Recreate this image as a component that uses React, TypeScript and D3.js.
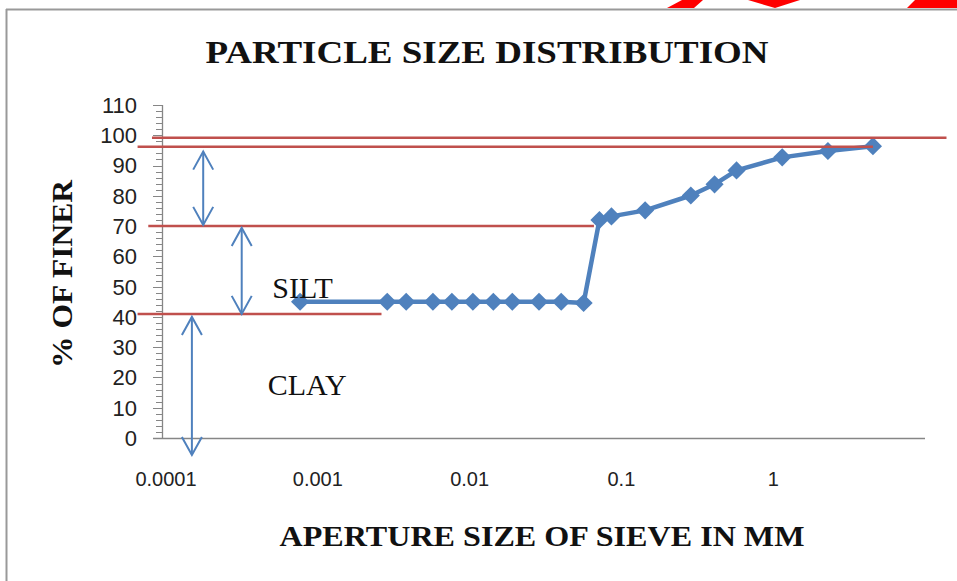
import React from "react";
import * as d3 from "d3";

// ---- data ----
const apertureMM: number[] = [0.0008, 0.003, 0.004, 0.006, 0.008, 0.011, 0.015, 0.02, 0.03, 0.042, 0.059, 0.075, 0.09, 0.15, 0.3, 0.43, 0.6, 1.2, 2.4, 4.75];
const percentFiner: number[] = [45, 45, 45, 45, 45, 45, 45, 45, 45, 45, 44.6, 72, 73.2, 75.2, 80.1, 83.8, 88.4, 92.7, 94.8, 96.4];
const xTickValues: number[] = [0.0001, 0.001, 0.01, 0.1, 1];
const xTickLabels: string[] = ["0.0001", "0.001", "0.01", "0.1", "1"];
const yTickValues: number[] = [0, 10, 20, 30, 40, 50, 60, 70, 80, 90, 100, 110];

// reference lines: [y value, x from, x to] (data units)
const refLineY: number[] = [99.2, 96.2, 70, 41];
const refLineFrom: number[] = [0.0000846, 0.000068, 0.00008, 0.000068];
const refLineTo: number[] = [14.5, 4.75, 0.069, 0.00275];

// double-headed arrows: x, y top, y bottom
const arrowX: number[] = [0.000184, 0.00033, 0.000155];
const arrowTop: number[] = [94.6, 69.4, 40];
const arrowBottom: number[] = [70.4, 41, -5.6];

const zoneLabels: string[] = ["SILT", "CLAY"];
const zoneLabelX: number[] = [0.000525, 0.00049];
const zoneLabelY: number[] = [46.2, 14.2];

const W = 957;
const H = 581;

export default function App() {
  const x = d3.scaleLog().domain([0.0001, 10]).range([163, 922]);
  const y = d3.scaleLinear().domain([0, 110]).range([438, 105]);

  const pts: [number, number][] = apertureMM.map((v, i) => [x(v), y(percentFiner[i])]);
  const line = d3.line()(pts) || "";
  const diamond = d3.symbol().type(d3.symbolDiamond2).size(210)() || "";

  const minorTicks = d3.range(0, 110.001, 2);
  const blue = "#4F81BD";
  const red = "#C0504D";
  const axisCol = "#868686";
  const serif = "'Liberation Serif', 'Times New Roman', serif";
  const sans = "'Liberation Sans', Arial, sans-serif";

  const arrowHead = (cx: number, tipY: number, dir: number) =>
    `M${cx - 10},${tipY + dir * 18}L${cx},${tipY}L${cx + 10},${tipY + dir * 18}`;

  return (
    <svg width={W} height={H} style={{ position: "absolute", left: 0, top: 0, background: "#fff" }}>
      <rect x={0} y={0} width={W} height={H} fill="#fff" />
      {/* decorative red shapes at top */}
      <polygon points="682,0 703,0 694,8 667,8" fill="#FF0000" />
      <polygon points="748,0 800,0 775,8" fill="#FF0000" />
      <polygon points="915,0 957,0 957,8 907,8" fill="#FF0000" />
      {/* frame */}
      <line x1={6.5} y1={9} x2={6.5} y2={H} stroke="#999" strokeWidth={2} />
      <line x1={6} y1={9.5} x2={W} y2={9.5} stroke="#999" strokeWidth={2} />

      {/* title */}
      <text x={487} y={63} textAnchor="middle" fontFamily={serif} fontWeight="bold" fontSize={31} textLength={563} lengthAdjust="spacingAndGlyphs" fill="#111">
        PARTICLE SIZE DISTRIBUTION
      </text>

      {/* y axis */}
      <line x1={162.5} y1={y(110)} x2={162.5} y2={y(0)} stroke={axisCol} strokeWidth={1.3} />
      {minorTicks.map((t) => (
        <line key={"m" + t} x1={t % 10 === 0 ? 153 : 156} x2={162.5} y1={Math.round(y(t)) + 0.5} y2={Math.round(y(t)) + 0.5} stroke={axisCol} strokeWidth={1} />
      ))}
      {yTickValues.map((t) => (
        <text key={"y" + t} x={137} y={y(t)} dy="0.36em" textAnchor="end" fontFamily={sans} fontSize={22} fill="#222">
          {t}
        </text>
      ))}
      {/* x axis */}
      <line x1={153} y1={438.5} x2={925} y2={438.5} stroke={axisCol} strokeWidth={1.3} />
      {xTickValues.map((t, i) => (
        <text key={"x" + t} x={x(t) + 3} y={486} textAnchor="middle" fontFamily={sans} fontSize={20} fill="#222">
          {xTickLabels[i]}
        </text>
      ))}

      {/* axis titles */}
      <text x={542} y={546} textAnchor="middle" fontFamily={serif} fontWeight="bold" fontSize={29} textLength={525} lengthAdjust="spacingAndGlyphs" fill="#111">
        APERTURE SIZE OF SIEVE IN MM
      </text>
      <text transform="translate(72,274) rotate(-90)" textAnchor="middle" fontFamily={serif} fontWeight="bold" fontSize={29} textLength={188} lengthAdjust="spacingAndGlyphs" fill="#111">
        % OF FINER
      </text>

      {/* data series */}
      <path d={line} fill="none" stroke={blue} strokeWidth={4.5} strokeLinejoin="round" />
      {pts.map((p, i) => (
        <path key={"d" + i} d={diamond} transform={`translate(${p[0]},${p[1]})`} fill={blue} />
      ))}

      {/* reference lines */}
      {refLineY.map((v, i) => (
        <line key={"r" + i} x1={x(refLineFrom[i])} x2={x(refLineTo[i])} y1={y(v)} y2={y(v)} stroke={red} strokeWidth={2.5} />
      ))}

      {/* arrows */}
      {arrowX.map((ax, i) => {
        const cx = x(ax);
        const t = y(arrowTop[i]);
        const b = y(arrowBottom[i]);
        return (
          <g key={"a" + i} stroke={blue} strokeWidth={2} fill="none">
            <line x1={cx} x2={cx} y1={t} y2={b} />
            <path d={arrowHead(cx, t, 1)} />
            <path d={arrowHead(cx, b, -1)} />
          </g>
        );
      })}

      {/* zone labels */}
      {zoneLabels.map((s, i) => (
        <text key={s} x={x(zoneLabelX[i])} y={y(zoneLabelY[i])} fontFamily={serif} fontSize={30} fill="#111">
          {s}
        </text>
      ))}
    </svg>
  );
}
